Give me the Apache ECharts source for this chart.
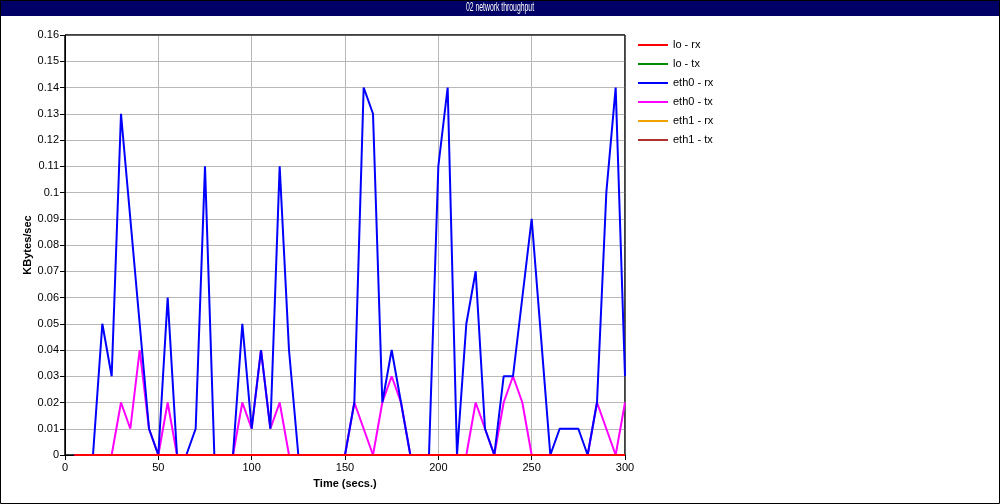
<!DOCTYPE html>
<html>
<head>
<meta charset="utf-8">
<script src="https://cdn.jsdelivr.net/npm/echarts@6/dist/echarts.min.js"></script>
<style>
html,body{margin:0;padding:0;background:#fff;}
#c{width:1000px;height:504px;}
</style>
</head>
<body>
<div id="c"></div>
<script>
const titleText = "02 network throughput";
const seriesNames = ["lo - rx", "lo - tx", "eth0 - rx", "eth0 - tx", "eth1 - rx", "eth1 - tx"];
const seriesColors = ["#ff0000", "#008c00", "#0000ff", "#ff00ff", "#f0a000", "#b03030"];
const times = [5,10,15,20,25,30,35,40,45,50,55,60,65,70,75,80,85,90,95,100,105,110,115,120,125,130,135,140,145,150,155,160,165,170,175,180,185,190,195,200,205,210,215,220,225,230,235,240,245,250,255,260,265,270,275,280,285,290,295,300];
const loRx  = times.map(() => 0);
const loTx  = times.map(() => 0);
const eth1Rx = times.map(() => 0);
const eth1Tx = times.map(() => 0);
const eth0Rx = [0,0,0,0.05,0.03,0.13,0.09,0.05,0.01,0,0.06,0,0,0.01,0.11,0,0,0,0.05,0.01,0.04,0.01,0.11,0.04,0,0,0,0,0,0,0.02,0.14,0.13,0.02,0.04,0.02,0,0,0,0.11,0.14,0,0.05,0.07,0.01,0,0.03,0.03,0.06,0.09,0.045,0,0.01,0.01,0.01,0,0.02,0.10,0.14,0.03];
const eth0Tx = [0,0,0,0,0,0.02,0.01,0.04,0.01,0,0.02,0,0,0,0,0,0,0,0.02,0.01,0.04,0.01,0.02,0,0,0,0,0,0,0,0.02,0.01,0,0.02,0.03,0.02,0,0,0,0,0,0,0,0.02,0.01,0,0.02,0.03,0.02,0,0,0,0,0,0,0,0.02,0.01,0,0.02];
const xTicks = {min: 0, max: 300, interval: 50};
const yTicks = {min: 0, max: 0.16, interval: 0.01};

const allData = [loRx, loTx, eth0Rx, eth0Tx, eth1Rx, eth1Tx];
const zOrder = [8, 4, 6, 5, 3, 2];

const chart = echarts.init(document.getElementById('c'), null, {renderer: 'canvas'});
const font = '"Liberation Sans", Arial, sans-serif';
chart.setOption({
  animation: false,
  backgroundColor: '#fff',
  graphic: [
    {type: 'rect', shape: {x: 0, y: 0, width: 1000, height: 16}, style: {fill: '#000066'}, z: 10},
    {type: 'text', x: 500, y: 8, originX: 0, originY: 0, scaleX: 0.57, z: 11,
     style: {text: titleText, fill: '#ffffff', font: '12px ' + font, textAlign: 'center', textVerticalAlign: 'middle'}},
    {type: 'rect', shape: {x: 0.5, y: 0.5, width: 999, height: 503}, style: {fill: 'none', stroke: '#000', lineWidth: 1}, z: 12},
    {type: 'rect', shape: {x: 65, y: 35, width: 560, height: 420}, style: {fill: 'none', stroke: '#000', lineWidth: 1}, z: 1}
  ],
  grid: {left: 65, top: 35, width: 560, height: 420, show: true, borderColor: '#000', borderWidth: 1, backgroundColor: '#fff'},
  legend: {
    orient: 'vertical', left: 633, top: 33,
    itemWidth: 30, itemHeight: 2, itemGap: 5, icon: 'rect',
    textStyle: {fontSize: 11, fontFamily: font, color: '#000', lineHeight: 14},
    data: seriesNames
  },
  xAxis: {
    type: 'value', min: xTicks.min, max: xTicks.max, interval: xTicks.interval,
    name: 'Time (secs.)', nameLocation: 'middle', nameGap: 23,
    nameTextStyle: {fontSize: 11, fontWeight: 'bold', fontFamily: font, color: '#000'},
    axisLine: {show: true, lineStyle: {color: '#000', width: 1}},
    axisTick: {show: true, length: 5, lineStyle: {color: '#000'}},
    axisLabel: {fontSize: 11, fontFamily: font, color: '#000', margin: 7},
    splitLine: {show: true, lineStyle: {color: '#b8b8b8', width: 1}}
  },
  yAxis: {
    type: 'value', min: yTicks.min, max: yTicks.max, interval: yTicks.interval,
    name: 'KBytes/sec', nameLocation: 'middle', nameGap: 32, nameMoveOverlap: false,
    nameTextStyle: {fontSize: 11, fontWeight: 'bold', fontFamily: font, color: '#000'},
    axisLine: {show: true, lineStyle: {color: '#000', width: 1}},
    axisTick: {show: true, length: 5, lineStyle: {color: '#000'}},
    axisLabel: {fontSize: 11, fontFamily: font, color: '#000', margin: 6,
      formatter: v => String(parseFloat(v.toFixed(2)))},
    splitLine: {show: true, lineStyle: {color: '#b8b8b8', width: 1}}
  },
  series: seriesNames.map((n, i) => ({
    name: n, type: 'line', symbol: 'none', z: zOrder[i],
    color: seriesColors[i],
    lineStyle: {width: 2, color: seriesColors[i]},
    data: times.map((t, k) => [t, allData[i][k]])
  }))
});
</script>
</body>
</html>
